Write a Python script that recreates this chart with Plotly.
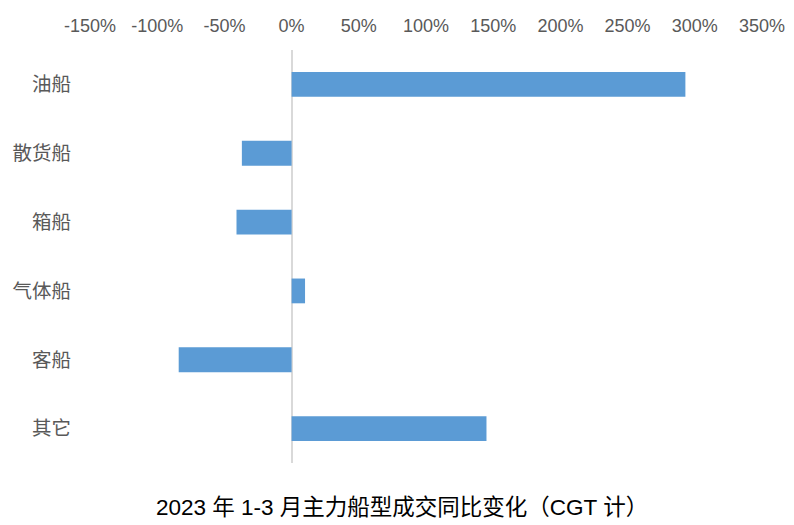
import plotly.graph_objects as go

categories = ["油船", "散货船", "箱船", "气体船", "客船", "其它"]
values = [293, -37, -41, 10, -84, 145]
tick_vals = [-150, -100, -50, 0, 50, 100, 150, 200, 250, 300, 350]
tick_text = ["-150%", "-100%", "-50%", "0%", "50%", "100%", "150%", "200%", "250%", "300%", "350%"]
title_text = "2023 年 1-3 月主力船型成交同比变化（CGT 计）"

# page body has an 8px default margin; figure offset accordingly
OFF = 8
W, H = 794 - 2 * OFF, 525 - OFF
L, T = 90 - OFF, 50 - OFF
R = W - (762 - OFF)
B = H - (463 - OFF)

fig = go.Figure()
fig.add_trace(go.Bar(
    x=values, y=categories, orientation="h",
    marker=dict(color="#5B9BD5", line=dict(width=0)),
))

fig.update_layout(
    width=W, height=H,
    margin=dict(l=L, r=R, t=T, b=B, autoexpand=False),
    paper_bgcolor="white", plot_bgcolor="white",
    bargap=0.64,
    showlegend=False,
    font=dict(family="Liberation Sans, Noto Sans CJK SC, sans-serif", color="#595959"),
    xaxis=dict(
        side="top", range=[-150, 350], tickvals=tick_vals, ticktext=tick_text,
        showgrid=False, zeroline=True, zerolinecolor="#d9d9d9", zerolinewidth=2,
        showline=False, ticks="", ticklabelstandoff=13, automargin=False,
        tickfont=dict(size=18, color="#595959"),
    ),
    yaxis=dict(
        autorange="reversed", showgrid=False, showline=False, ticks="",
        ticklabelstandoff=18, automargin=False,
        tickfont=dict(size=19.5, color="#595959", family="Noto Sans CJK SC, sans-serif"),
    ),
    annotations=[dict(
        text=title_text,
        x=(402 - 90) / (762 - 90), y=(463 - 507) / (463 - 50),
        xref="paper", yref="paper", showarrow=False,
        xanchor="center", yanchor="middle",
        font=dict(size=22.5, color="#000000", family="Liberation Sans, Noto Sans CJK SC, sans-serif"),
    )],
)

fig.write_html("out.html")
